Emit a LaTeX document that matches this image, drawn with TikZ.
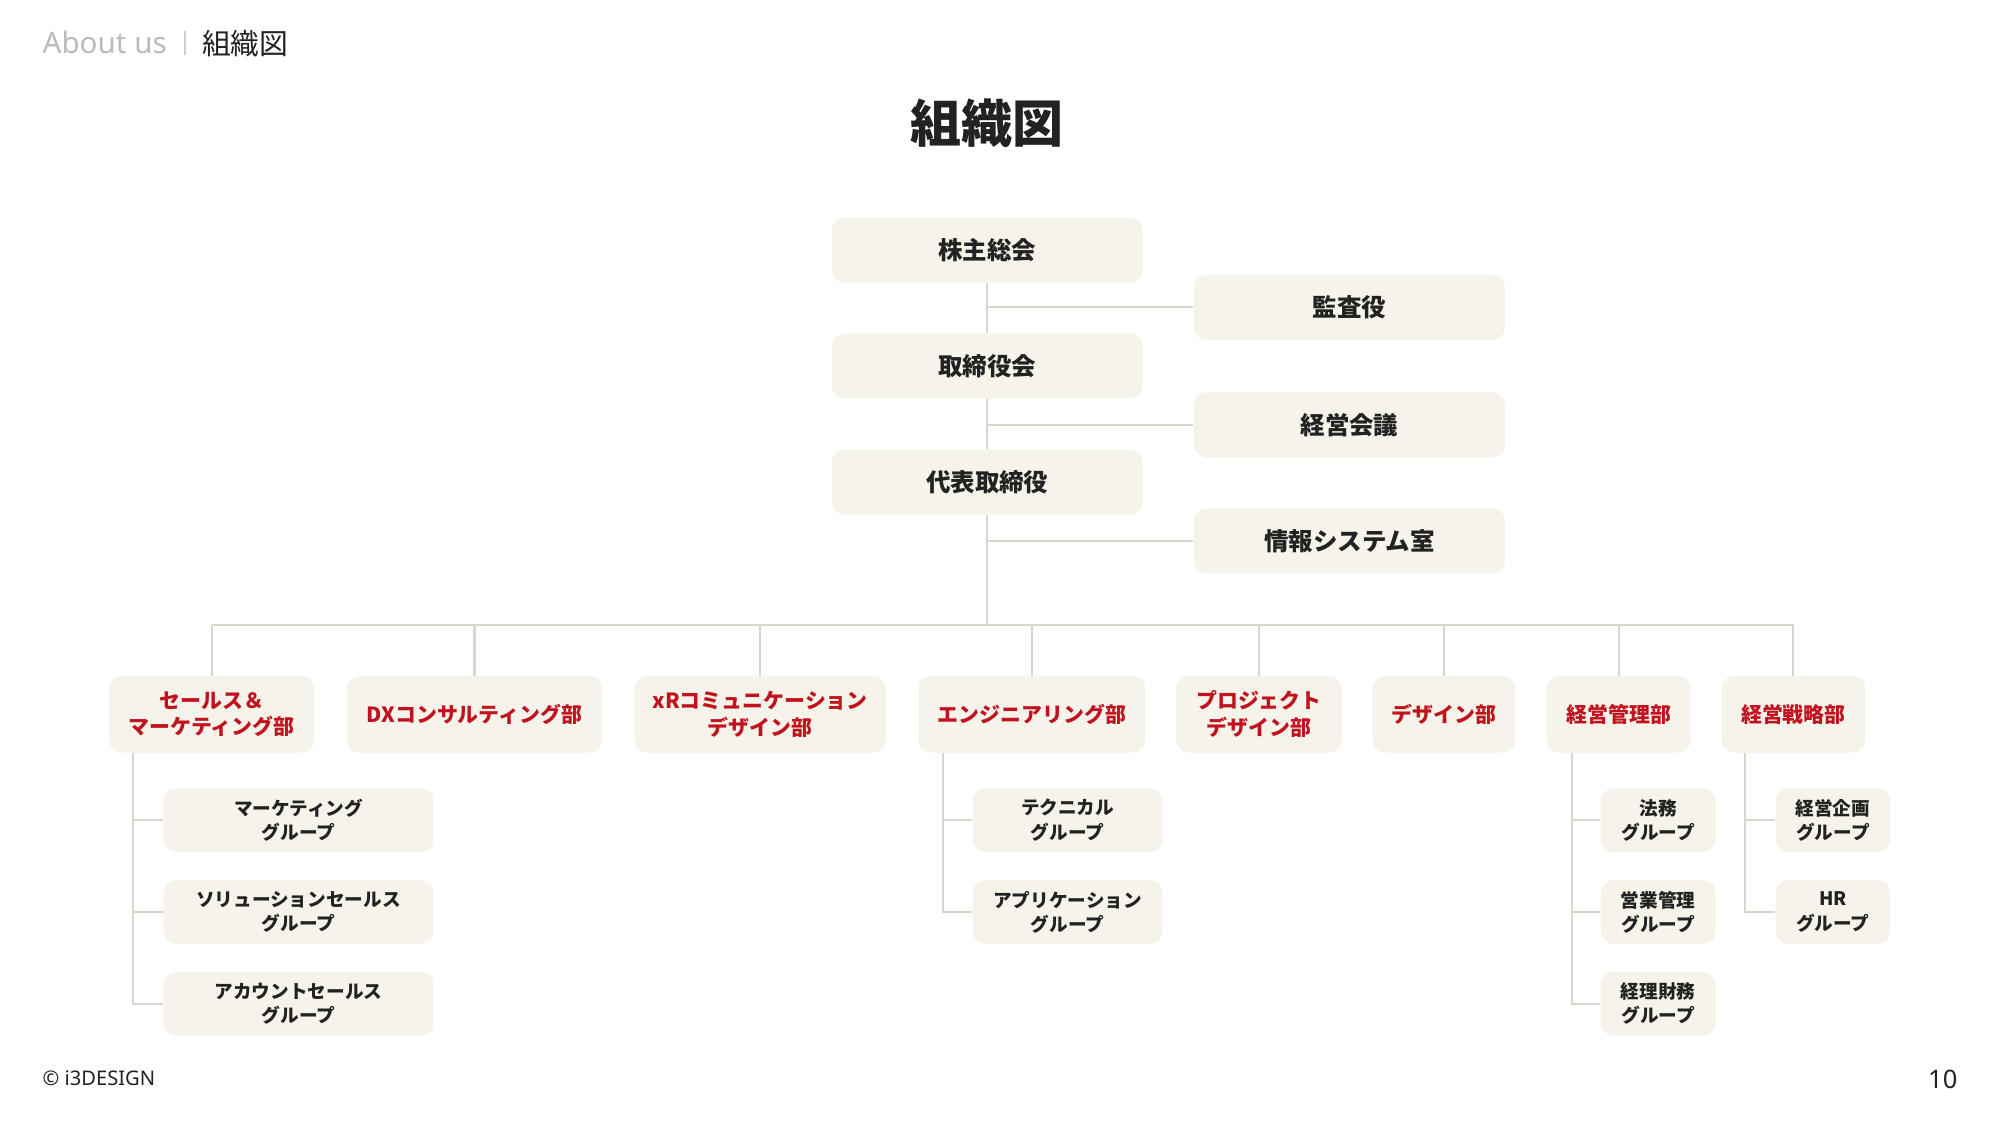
\documentclass[tikz,border=0pt]{standalone}
\usepackage{fontspec}
\setmainfont{Noto Sans CJK JP}
\newfontfamily\latinsans{Noto Sans}
\definecolor{boxfill}{HTML}{F6F4EA}
\definecolor{linec}{HTML}{D9D7CB}
\definecolor{deptred}{HTML}{C1121F}
\definecolor{ink}{HTML}{222222}
\definecolor{greytxt}{HTML}{BBBBBB}
\tikzset{
  box/.style={fill=boxfill, rounded corners=5pt, inner sep=0pt, align=center, draw=none},
  topbox/.style={box, minimum width=122pt, minimum height=25.5pt, text=ink, font=\bfseries\fontsize{9.6}{12}\selectfont},
  dept/.style={box, minimum height=30pt, text=deptred, font=\bfseries\fontsize{8.2}{10.5}\selectfont},
  grp/.style={box, minimum height=25pt, text=ink, font=\bfseries\fontsize{7.3}{9.5}\selectfont},
  conn/.style={draw=linec, line width=0.8pt}
}
\begin{document}
\begin{tikzpicture}[x=0.5pt,y=-0.5pt]
\fill[white] (0,0) rectangle (1568,882);
\useasboundingbox (0,0) rectangle (1568,882);

% header
\node[anchor=west, inner sep=0pt, text=greytxt, font=\latinsans\fontsize{11.6}{13}\selectfont] (about) at (33,33) {About us};
\coordinate (sepT) at (145,24);
\coordinate (sepB) at (145,43);
\draw[draw=greytxt!70, line width=0.5pt] (sepT) -- (sepB);
\node[anchor=west, inner sep=0pt, text=ink, font=\fontsize{11.3}{13}\selectfont] (crumb) at (158,34) {組織図};

% title
\node[text=ink, font=\bfseries\fontsize{20}{24}\selectfont] (title) at (774,97) {組織図};

% top chain
\node[topbox] (kabu) at (774,196) {株主総会};
\node[topbox] (kansa) at (1058,241) {監査役};
\node[topbox] (torishimari) at (774,287) {取締役会};
\node[topbox] (keiei) at (1058,333) {経営会議};
\node[topbox] (daihyo) at (774,378) {代表取締役};
\node[topbox] (joho) at (1058,424) {情報システム室};
\coordinate (bus) at (774,490);

% departments
\node[dept, minimum width=80.5pt] (sales) at (166,560) {セールス＆\\マーケティング部};
\node[dept, minimum width=100pt] (dx) at (372,560) {DXコンサルティング部};
\node[dept, minimum width=98.5pt] (xr) at (596,560) {xRコミュニケーション\\デザイン部};
\node[dept, minimum width=89pt] (eng) at (809,560) {エンジニアリング部};
\node[dept, minimum width=65pt] (proj) at (987,560) {プロジェクト\\デザイン部};
\node[dept, minimum width=56pt] (design) at (1132,560) {デザイン部};
\node[dept, minimum width=56.5pt] (kanri) at (1269,560) {経営管理部};
\node[dept, minimum width=56.5pt] (senryaku) at (1406,560) {経営戦略部};

% groups
\node[grp, minimum width=106pt] (mkt) at (234,643) {マーケティング\\グループ};
\node[grp, minimum width=106pt] (sol) at (234,715) {ソリューションセールス\\グループ};
\node[grp, minimum width=106pt] (acc) at (234,787) {アカウントセールス\\グループ};
\node[grp, minimum width=74.5pt] (tech) at (837,643) {テクニカル\\グループ};
\node[grp, minimum width=74.5pt] (app) at (837,715) {アプリケーション\\グループ};
\node[grp, minimum width=45pt] (houmu) at (1300,643) {法務\\グループ};
\node[grp, minimum width=45pt] (eigyo) at (1300,715) {営業管理\\グループ};
\node[grp, minimum width=45pt] (keiri) at (1300,787) {経理財務\\グループ};
\node[grp, minimum width=45pt] (kikaku) at (1437,643) {経営企画\\グループ};
\node[grp, minimum width=45pt] (hr) at (1437,715) {HR\\グループ};

% connectors: top chain
\draw[conn] (kabu) -- (torishimari);
\draw[conn] (torishimari) -- (daihyo);
\draw[conn] (daihyo) -- (bus);
\draw[conn] (kabu.south |- kansa) -- (kansa.west);
\draw[conn] (torishimari.south |- keiei) -- (keiei.west);
\draw[conn] (daihyo.south |- joho) -- (joho.west);

% bus
\draw[conn] (sales.north |- bus) -- (senryaku.north |- bus);
\foreach \d in {sales,dx,xr,eng,proj,design,kanri,senryaku}
  \draw[conn] (\d.north |- bus) -- (\d.north);

% group connectors
\draw[conn] ([xshift=9.5pt]sales.south west) |- (acc.west);
\draw[conn] ([xshift=9.5pt]sales.south west) |- (sol.west);
\draw[conn] ([xshift=9.5pt]sales.south west) |- (mkt.west);
\draw[conn] ([xshift=10pt]eng.south west) |- (app.west);
\draw[conn] ([xshift=10pt]eng.south west) |- (tech.west);
\draw[conn] ([xshift=10pt]kanri.south west) |- (keiri.west);
\draw[conn] ([xshift=10pt]kanri.south west) |- (eigyo.west);
\draw[conn] ([xshift=10pt]kanri.south west) |- (houmu.west);
\draw[conn] ([xshift=9.5pt]senryaku.south west) |- (hr.west);
\draw[conn] ([xshift=9.5pt]senryaku.south west) |- (kikaku.west);

% footer
\node[anchor=west, inner sep=0pt, text=ink, font=\latinsans\fontsize{7.9}{10}\selectfont] (copy) at (33,845) {© i3DESIGN};
\node[anchor=east, inner sep=0pt, text=ink, font=\latinsans\fontsize{10}{12}\selectfont] (page) at (1535,846) {10};
\end{tikzpicture}
\end{document}
